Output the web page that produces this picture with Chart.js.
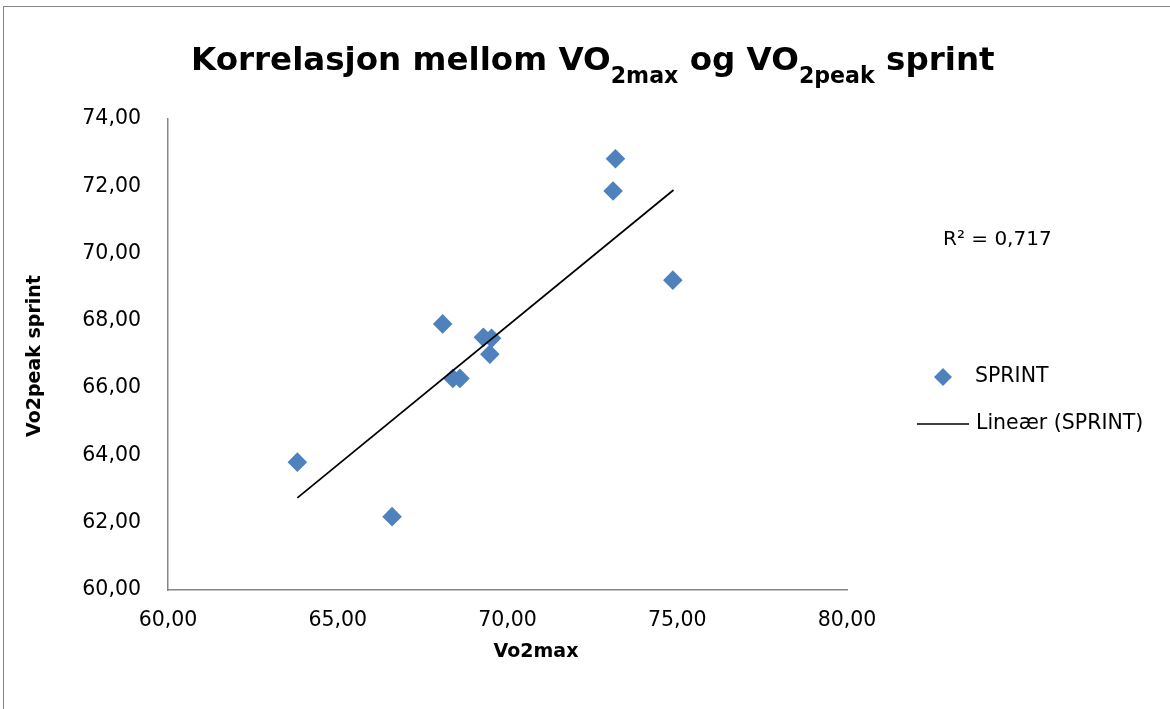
<!DOCTYPE html>
<html><head><meta charset="utf-8">
<script src="https://cdn.jsdelivr.net/npm/chart.js@4.4.1/dist/chart.umd.min.js"></script>
<style>html,body{margin:0;padding:0;background:#fff;overflow:hidden}canvas{display:block}</style>
</head><body>
<canvas id="c" width="1170" height="709"></canvas>
<script>
// ---- data ----
const vo2max        = [63.81, 66.60, 68.09, 68.39, 68.60, 69.29, 69.53, 69.48, 73.11, 73.18, 74.87];
const vo2peakSprint = [63.80, 62.18, 67.91, 66.29, 66.29, 67.51, 67.48, 67.01, 71.86, 72.82, 69.21];
const trendX = [63.81, 74.89];
const trendY = [62.74, 71.89];
const xTickLabels = ['60,00', '65,00', '70,00', '75,00', '80,00'];
const yTickLabels = ['60,00', '62,00', '64,00', '66,00', '68,00', '70,00', '72,00', '74,00'];
const seriesLabel = 'SPRINT';
const trendLabel = 'Lineær (SPRINT)';
const r2Label = 'R² = 0,717';
const xAxisTitle = 'Vo2max';
const yAxisTitle = 'Vo2peak sprint';
const titleParts = [
  ['Korrelasjon mellom VO', false], ['2max', true], [' og VO', false], ['2peak', true], [' sprint', false]
];

const FONT = '"DejaVu Sans", sans-serif';
const BLUE = '#4F81BD';
const GREY = '#868686';

const decor = {
  id: 'decor',
  beforeDraw(chart) {
    const ctx = chart.ctx;
    ctx.save();
    ctx.fillStyle = '#fff';
    ctx.fillRect(0, 0, chart.width, chart.height);
    ctx.strokeStyle = GREY;
    ctx.lineWidth = 1;
    ctx.strokeRect(3.5, 6.5, 1300, 900);
    ctx.restore();
  },
  afterDraw(chart) {
    const ctx = chart.ctx;
    ctx.save();
    ctx.fillStyle = '#000';
    // title with subscripts, fitted to the reference width
    const base = 32, subR = 0.68;
    let w = 0;
    titleParts.forEach(([t, sub]) => { ctx.font = `bold ${sub ? base * subR : base}px ${FONT}`; w += ctx.measureText(t).width; });
    const s = base * 804 / w;
    let x = 191;
    const baseY = 70;
    ctx.textBaseline = 'alphabetic';
    ctx.textAlign = 'left';
    titleParts.forEach(([t, sub]) => {
      ctx.font = `bold ${sub ? s * subR : s}px ${FONT}`;
      ctx.fillText(t, x, sub ? baseY + s * 0.4 : baseY);
      x += ctx.measureText(t).width;
    });
    // axis titles
    ctx.font = `bold 19px ${FONT}`;
    ctx.textAlign = 'center';
    ctx.textBaseline = 'alphabetic';
    ctx.fillText(xAxisTitle, 536, 657);
    ctx.save();
    ctx.translate(40, 356);
    ctx.rotate(-Math.PI / 2);
    ctx.fillText(yAxisTitle, 0, 0);
    ctx.restore();
    // R² label
    ctx.font = `20px ${FONT}`;
    ctx.textAlign = 'left';
    ctx.textBaseline = 'middle';
    ctx.fillText(r2Label, 943, 240);
    // legend
    ctx.fillStyle = BLUE;
    Chart.helpers.drawPoint(ctx, {pointStyle: 'rectRot', radius: 9, borderWidth: 0}, 943, 377);
    ctx.fillStyle = '#000';
    ctx.font = `20.5px ${FONT}`;
    ctx.fillText(chart.data.datasets[1].label, 975, 377);
    ctx.strokeStyle = '#000';
    ctx.lineWidth = 1.5;
    ctx.beginPath(); ctx.moveTo(917, 424); ctx.lineTo(969, 424); ctx.stroke();
    ctx.fillText(chart.data.datasets[0].label, 976, 424);
    ctx.restore();
  }
};

new Chart(document.getElementById('c'), {
  type: 'scatter',
  data: {
    datasets: [
      {
        type: 'line',
        label: trendLabel,
        data: trendX.map((v, i) => ({x: v, y: trendY[i]})),
        borderColor: '#000',
        borderWidth: 1.75,
        pointRadius: 0,
        fill: false,
        order: 0
      },
      {
        label: seriesLabel,
        data: vo2max.map((v, i) => ({x: v, y: vo2peakSprint[i]})),
        backgroundColor: BLUE,
        borderColor: BLUE,
        borderWidth: 0,
        pointStyle: 'rectRot',
        pointRadius: 9.8,
        pointHoverRadius: 9.8,
        order: 1
      }
    ]
  },
  options: {
    responsive: false,
    animation: false,
    events: [],
    layout: {padding: {left: 0, top: 119, right: 323, bottom: 0}},
    plugins: {legend: {display: false}, title: {display: false}, tooltip: {enabled: false}},
    scales: {
      x: {
        type: 'linear', min: 60, max: 80,
        afterFit: s => { s.height = 119; },
        grid: {display: false, drawTicks: false},
        border: {display: true, color: GREY, width: 1.5},
        ticks: {stepSize: 5, padding: 18, color: '#000', font: {family: FONT, size: 20.5},
          callback: (v, i) => xTickLabels[i]}
      },
      y: {
        type: 'linear', min: 60, max: 74,
        afterFit: s => { s.width = 168; },
        grid: {display: false, drawTicks: false},
        border: {display: true, color: GREY, width: 1.5},
        ticks: {stepSize: 2, padding: 27, color: '#000', font: {family: FONT, size: 20.5},
          callback: (v, i) => yTickLabels[i]}
      }
    }
  },
  plugins: [decor]
});
</script>
</body></html>
